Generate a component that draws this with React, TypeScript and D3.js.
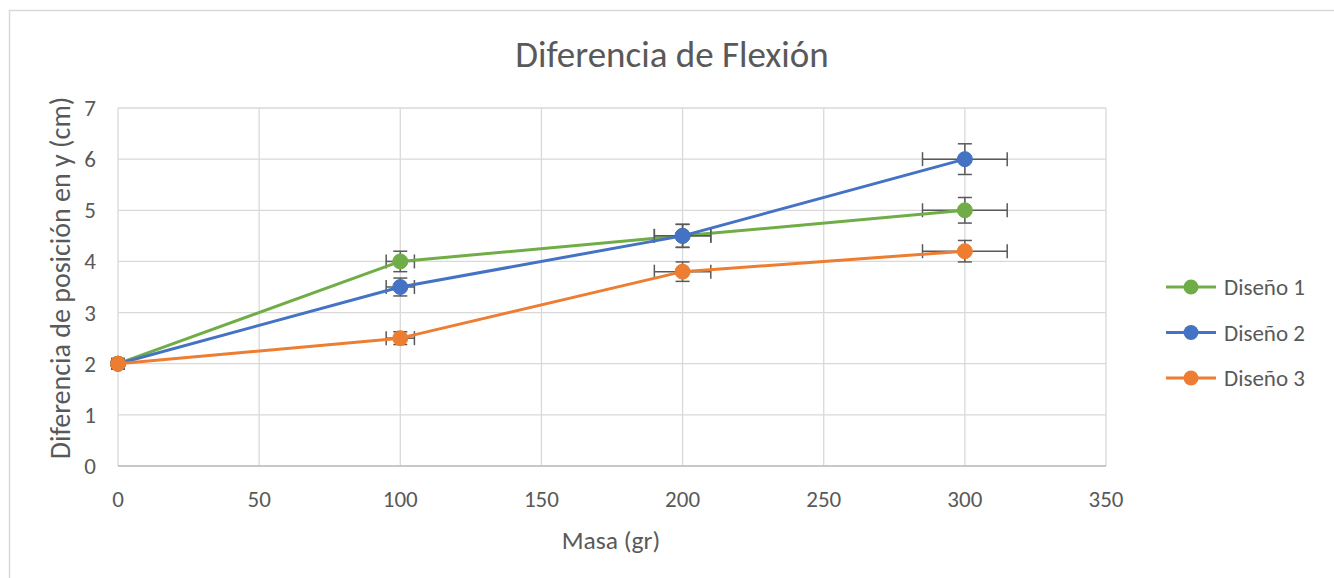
import React from "react";
import * as d3 from "d3";

const masses = [0, 100, 200, 300];
const seriesNames = ["Diseño 1", "Diseño 2", "Diseño 3"];
const diseno1 = [2, 4, 4.5, 5];
const diseno2 = [2, 3.5, 4.5, 6];
const diseno3 = [2, 2.5, 3.8, 4.2];
const seriesColors = ["#70AD47", "#4472C4", "#ED7D31"];
const xTicks = [0, 50, 100, 150, 200, 250, 300, 350];
const yTicks = [0, 1, 2, 3, 4, 5, 6, 7];
const errorPct = 0.05;

export default function App() {
  const W = 1334, H = 578;
  const left = 118, right = 1106, top = 108, bottom = 466;
  const x = d3.scaleLinear().domain([0, 350]).range([left, right]);
  const y = d3.scaleLinear().domain([0, 7]).range([bottom, top]);
  const series = [diseno1, diseno2, diseno3];
  const line = d3.line<[number, number]>().x(d => x(d[0])).y(d => y(d[1]));
  const font = "Calibri, Carlito, Lato, sans-serif";
  const txt = "#595959";
  const errColor = "#595959";
  const cap = 7;

  return (
    <svg width={W} height={H} style={{ position: "absolute", left: 0, top: 0, background: "#fff" }} fontFamily={font}>
      <rect x={9.5} y={10.5} width={1340} height={600} fill="#fff" stroke="#D9D9D9" strokeWidth={1.5} />
      <text x={672} y={67} textAnchor="middle" fontSize={37} fill={txt}>Diferencia de Flexión</text>
      {yTicks.map(t => (
        <line key={"gy" + t} x1={left} x2={right} y1={y(t)} y2={y(t)} stroke="#D9D9D9" strokeWidth={1.3} />
      ))}
      {xTicks.map(t => (
        <line key={"gx" + t} x1={x(t)} x2={x(t)} y1={top} y2={bottom} stroke="#D9D9D9" strokeWidth={1.3} />
      ))}
      <line x1={left} x2={right} y1={bottom} y2={bottom} stroke="#BFBFBF" strokeWidth={1.3} />
      {yTicks.map(t => (
        <text key={"ty" + t} x={96} y={y(t) + 8} textAnchor="end" fontSize={23} fill={txt}>{t}</text>
      ))}
      {xTicks.map(t => (
        <text key={"tx" + t} x={x(t)} y={507} textAnchor="middle" fontSize={23} fill={txt}>{t}</text>
      ))}
      <text x={611} y={549} textAnchor="middle" fontSize={25.5} fill={txt}>Masa (gr)</text>
      <text transform={`translate(70,278) rotate(-90)`} textAnchor="middle" fontSize={28} fill={txt}>Diferencia de posición en y (cm)</text>
      {series.map((vals, si) => (
        <g key={"s" + si}>
          {vals.map((v, i) => {
            const m = masses[i];
            const dx = m * errorPct, dy = v * errorPct;
            const cx = x(m), cy = y(v);
            return (
              <g key={i} stroke={errColor} strokeWidth={1.5}>
                {dx > 0 && <>
                  <line x1={x(m - dx)} x2={x(m + dx)} y1={cy} y2={cy} />
                  <line x1={x(m - dx)} x2={x(m - dx)} y1={cy - cap} y2={cy + cap} />
                  <line x1={x(m + dx)} x2={x(m + dx)} y1={cy - cap} y2={cy + cap} />
                </>}
                <line x1={cx} x2={cx} y1={y(v - dy)} y2={y(v + dy)} />
                <line x1={cx - cap} x2={cx + cap} y1={y(v - dy)} y2={y(v - dy)} />
                <line x1={cx - cap} x2={cx + cap} y1={y(v + dy)} y2={y(v + dy)} />
              </g>
            );
          })}
          <path d={line(vals.map((v, i) => [masses[i], v] as [number, number])) || ""} fill="none" stroke={seriesColors[si]} strokeWidth={3} strokeLinecap="round" strokeLinejoin="round" />
          {vals.map((v, i) => (
            <circle key={"c" + i} cx={x(masses[i])} cy={y(v)} r={7.5} fill={seriesColors[si]} stroke={seriesColors[si]} strokeWidth={1} />
          ))}
        </g>
      ))}
      {seriesNames.map((n, i) => {
        const ly = 287 + i * 45.5;
        return (
          <g key={"l" + i}>
            <line x1={1166} x2={1216} y1={ly} y2={ly} stroke={seriesColors[i]} strokeWidth={3} />
            <circle cx={1191} cy={ly} r={7.5} fill={seriesColors[i]} />
            <text x={1224} y={ly + 8} fontSize={23} fill={txt}>{n}</text>
          </g>
        );
      })}
    </svg>
  );
}
